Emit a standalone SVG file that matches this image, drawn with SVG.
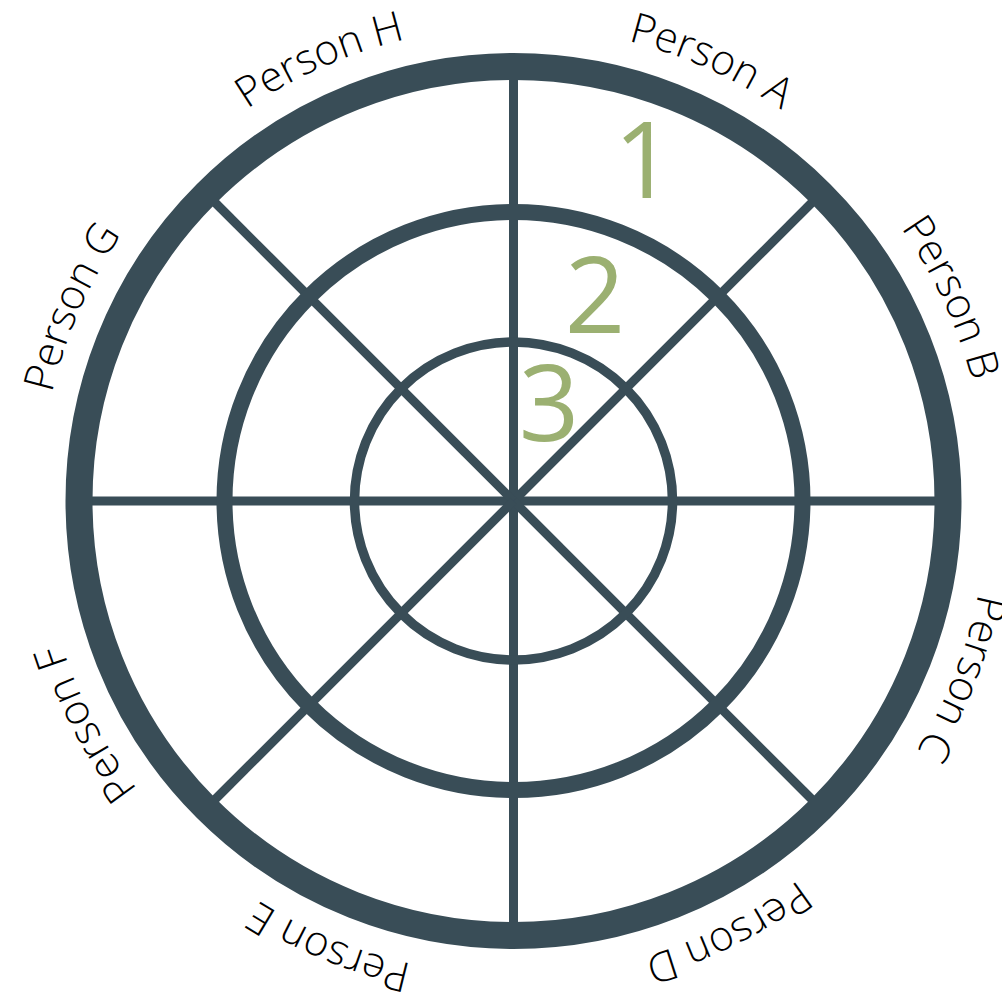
<svg xmlns="http://www.w3.org/2000/svg" width="1002" height="994" viewBox="0 0 1002 994">
<style>
.ring{fill:none;stroke:#394d57}
.spoke{stroke:#394d57;stroke-width:9;stroke-linecap:butt}
.lbl{font-family:"Open Sans","DejaVu Sans",sans-serif;font-weight:300;font-size:42px;fill:#000}
.num{font-family:"Open Sans","DejaVu Sans",sans-serif;font-weight:500;font-size:106px;fill:#9bb071}
</style>
<defs>
<path id="lp" d="M 513.5,27 A 474 474 0 1 1 513.5,975 A 474 474 0 1 1 513.5,27"/>
</defs>
<rect width="1002" height="994" fill="#fff"/>
<g id="connectors">
<line class="spoke" x1="513.5" y1="501" x2="513.5" y2="76"/>
<line class="spoke" x1="513.5" y1="501" x2="513.5" y2="926"/>
<line class="spoke" x1="513.5" y1="501" x2="88.5" y2="501"/>
<line class="spoke" x1="513.5" y1="501" x2="938.5" y2="501"/>
<line class="spoke" x1="513.5" y1="501" x2="814" y2="200.5"/>
<line class="spoke" x1="513.5" y1="501" x2="213" y2="200.5"/>
<line class="spoke" x1="513.5" y1="501" x2="814" y2="801.5"/>
<line class="spoke" x1="513.5" y1="501" x2="213" y2="801.5"/>
</g>
<g id="ring-outer"><circle class="ring" cx="513.5" cy="501" r="434.5" stroke-width="27"/></g>
<g id="ring-middle"><circle class="ring" cx="513.5" cy="501" r="289" stroke-width="16"/></g>
<g id="ring-inner"><circle class="ring" cx="513.5" cy="501" r="159" stroke-width="9.5"/></g>
<g id="level-1"><text class="num" x="644" y="198" text-anchor="middle">1</text></g>
<g id="level-2"><text class="num" x="595" y="333" text-anchor="middle">2</text></g>
<g id="level-3"><text class="num" x="549" y="441" text-anchor="middle">3</text></g>
<g id="person-a"><text class="lbl" text-anchor="middle"><textPath href="#lp" startOffset="6.72%">Person A</textPath></text></g>
<g id="person-b"><text class="lbl" text-anchor="middle"><textPath href="#lp" startOffset="18.08%">Person B</textPath></text></g>
<g id="person-c"><text class="lbl" text-anchor="middle"><textPath href="#lp" startOffset="30.98%">Person C</textPath></text></g>
<g id="person-d"><text class="lbl" text-anchor="middle"><textPath href="#lp" startOffset="42.65%">Person D</textPath></text></g>
<g id="person-e"><text class="lbl" text-anchor="middle"><textPath href="#lp" startOffset="56.25%">Person E</textPath></text></g>
<g id="person-f"><text class="lbl" text-anchor="middle"><textPath href="#lp" startOffset="67.35%">Person F</textPath></text></g>
<g id="person-g"><text class="lbl" text-anchor="middle"><textPath href="#lp" startOffset="81.58%">Person G</textPath></text></g>
<g id="person-h"><text class="lbl" text-anchor="middle"><textPath href="#lp" startOffset="93.42%">Person H</textPath></text></g>
</svg>
